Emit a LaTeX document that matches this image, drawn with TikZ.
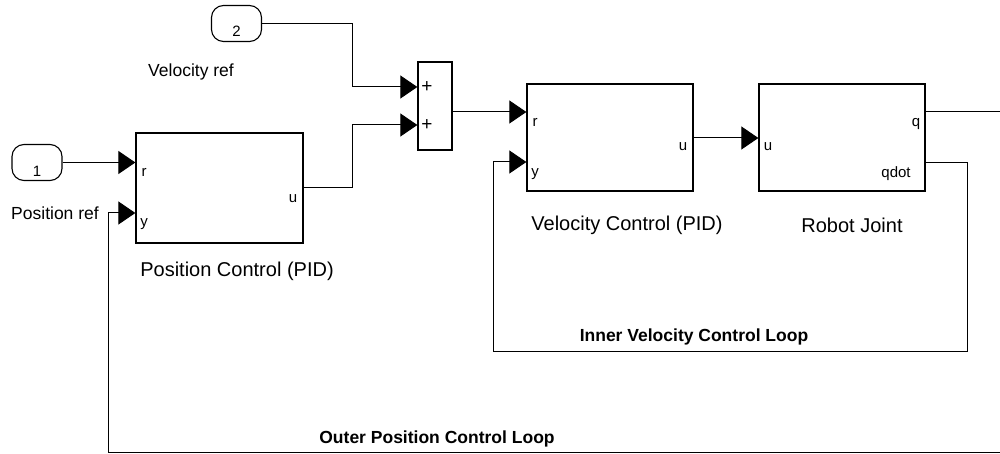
\documentclass[tikz,border=0pt]{standalone}
\usepackage{fontspec}
\setmainfont{Liberation Sans}
\usetikzlibrary{arrows.meta}
\begin{document}
\begin{tikzpicture}[x=1pt,y=-1pt,
  blk/.style={draw,line width=1.3pt,rectangle,inner sep=0pt},
  inport/.style={draw,line width=1.1pt,rounded corners=12pt,inner sep=0pt,minimum width=50pt,minimum height=36pt},
  wire/.style={line width=1pt},
  arr/.style={wire,-{Triangle[length=17pt,width=23pt]}},
  plbl/.style={inner sep=0pt,font=\fontsize{15}{15}\selectfont},
  sgn/.style={inner sep=0pt,font=\fontsize{19}{19}\selectfont},
  tlbl/.style={inner sep=0pt,font=\fontsize{17.5}{18}\selectfont},
  blbl/.style={inner sep=0pt,font=\fontsize{20}{20}\selectfont},
  loop/.style={inner sep=0pt,font=\fontsize{17.5}{17.5}\bfseries\selectfont}]
\useasboundingbox (0,0) rectangle (1000,454);
% blocks
\node[blk,minimum width=167pt,minimum height=110pt] (pc) at (219.5,188) {};
\node[blk,minimum width=34pt,minimum height=88pt] (sum) at (435,106) {};
\node[blk,minimum width=166pt,minimum height=107pt] (vc) at (610,137.5) {};
\node[blk,minimum width=166pt,minimum height=107pt] (rj) at (842,137.5) {};
\node[inport] (in2) at (236.5,23.5) {};
\node[inport] (in1) at (37,162.5) {};
\node[plbl] (n2) at (236.5,31) {2};
\node[plbl] (n1) at (37,171) {1};
% port labels
\node[plbl] (pcr) at (144,172) {r};
\node[plbl] (pcy) at (144,224) {y};
\node[plbl] (pcu) at (293,199) {u};
\node[sgn] (s1) at (427,87) {+};
\node[sgn] (s2) at (427,125) {+};
\node[plbl] (vcr) at (535,122) {r};
\node[plbl] (vcy) at (535,174) {y};
\node[plbl] (vcu) at (683,147) {u};
\node[plbl] (rju) at (768,147) {u};
\node[plbl] (rjq) at (916,124) {q};
\node[plbl] (rjqd) at (896,174) {qdot};
% texts
\node[tlbl] (vref) at (191,72) {Velocity ref};
\node[tlbl] (pref) at (55,213) {Position ref};
\node[blbl] (pcl) at (237,271) {Position Control (PID)};
\node[blbl] (vcl) at (627,225) {Velocity Control (PID)};
\node[blbl] (rjl) at (852,225) {Robot Joint};
\node[loop] (ivl) at (694,337) {Inner Velocity Control Loop};
\node[loop] (opl) at (437,438.5) {Outer Position Control Loop};
% coordinates
\coordinate (qend) at (1001,112);
\coordinate (oend) at (1001,452);
% wires
\draw[arr] (in2.east |- 0,24) -- (352,24) -- (352,87) -- (sum.west |- 0,87);
\draw[arr] (pc.east |- 0,188) -- (352,188) -- (352,125) -- (sum.west |- 0,125);
\draw[arr] (in1.east) -- (pc.west |- in1.east);
\draw[arr] (sum.east |- 0,112) -- (vc.west |- 0,112);
\draw[arr] (vc.east |- 0,138) -- (rj.west |- 0,138);
\draw[wire] (rj.east |- qend) -- (qend);
\draw[arr] (rj.east |- 0,163) -- (967,163) -- (967,351) -- (493,351) -- (493,162) -- (vc.west |- 0,162);
\draw[arr] (oend) -- (108,452) -- (108,213) -- (pc.west |- 0,213);
\end{tikzpicture}
\end{document}
